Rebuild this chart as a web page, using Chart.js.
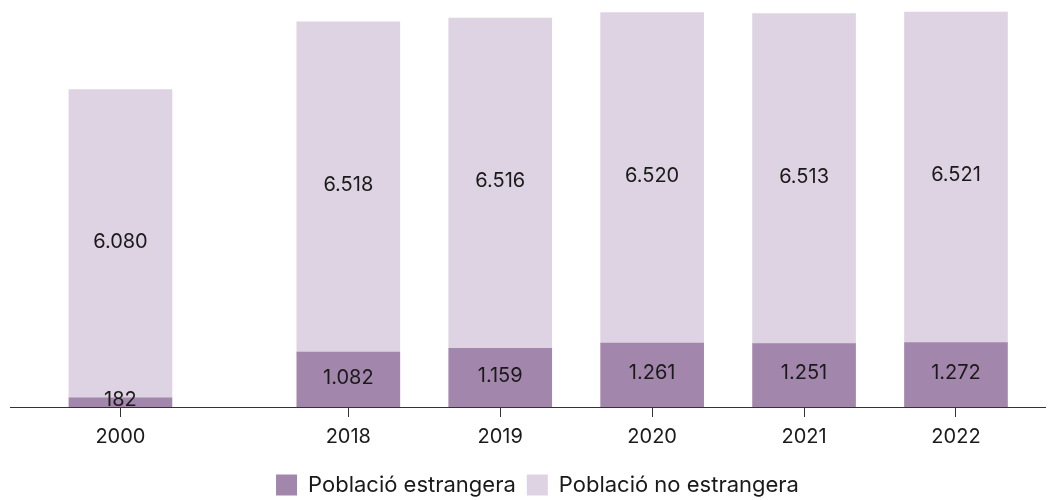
<!DOCTYPE html>
<html>
<head>
<meta charset="utf-8">
<script src="https://cdn.jsdelivr.net/npm/chart.js@4/dist/chart.umd.min.js"></script>
<style>
  html, body { margin: 0; padding: 0; background: #fff; }
  #wrap { width: 1055px; height: 500px; position: relative; }
</style>
</head>
<body>
<div id="wrap"><canvas id="chart"></canvas></div>
<script>
const years = ['2000', '2018', '2019', '2020', '2021', '2022'];
const estrangera = [182, 1082, 1159, 1261, 1251, 1272];
const noEstrangera = [6080, 6518, 6516, 6520, 6513, 6521];
const seriesNames = ['Població estrangera', 'Població no estrangera'];

// the first year stands apart from the rest, half a slot further
const slotOf = i => (i === 0 ? 0 : i + 0.5);
const slots = years.map((y, i) => slotOf(i));

const fontFamily = 'Inter, "Noto Sans", sans-serif';

function fmt(n) {
  return String(n).replace(/\B(?=(\d{3})+(?!\d))/g, '.');
}

// value in the middle of each segment, nudged a little up
const segmentLabels = {
  id: 'segmentLabels',
  afterLayout(chart) {
    // legend sits a bit right of centre in the original
    chart.legend.left = 30;
  },
  afterDatasetsDraw(chart) {
    const ctx = chart.ctx;
    ctx.save();
    ctx.font = '20px ' + fontFamily;
    ctx.fillStyle = '#1a1a1a';
    ctx.textAlign = 'center';
    ctx.textBaseline = 'middle';
    chart.data.datasets.forEach((ds, di) => {
      const meta = chart.getDatasetMeta(di);
      meta.data.forEach((bar, i) => {
        const y = (bar.y + bar.base) / 2 - 2;
        ctx.fillText(fmt(ds.data[i].y), bar.x, y);
      });
    });
    ctx.restore();
  }
};

const ctx = document.getElementById('chart').getContext('2d');
new Chart(ctx, {
  type: 'bar',
  data: {
    datasets: [
      {
        label: seriesNames[0],
        data: estrangera.map((v, i) => ({ x: slots[i], y: v })),
        backgroundColor: '#a386ac',
        barThickness: 103,
      },
      {
        label: seriesNames[1],
        data: noEstrangera.map((v, i) => ({ x: slots[i], y: v })),
        backgroundColor: '#ded3e2',
        barThickness: 103,
      },
    ],
  },
  options: {
    responsive: true,
    maintainAspectRatio: false,
    animation: false,
    events: [],
    layout: {
      padding: { left: 10, right: 10, top: 0, bottom: -6 },
    },
    plugins: {
      tooltip: { enabled: false },
      legend: {
        display: true,
        position: 'bottom',
        labels: {
          color: '#1a1a1a',
          boxWidth: 21,
          boxHeight: 21,
          padding: 11,
          font: { family: fontFamily, size: 22 },
        },
      },
    },
    scales: {
      x: {
        type: 'linear',
        stacked: true,
        offset: false,
        min: -0.727,
        max: 6.086,
        afterBuildTicks: scale => {
          scale.ticks = slots.map(v => ({ value: v }));
        },
        afterFit: scale => {
          scale.height += 6;
        },
        grid: {
          display: true,
          offset: false,
          drawOnChartArea: false,
          drawTicks: true,
          tickLength: 10,
          color: '#333',
        },
        border: { display: true, color: '#333', width: 1 },
        ticks: {
          autoSkip: false,
          maxRotation: 0,
          padding: 8,
          color: '#1a1a1a',
          font: { family: fontFamily, size: 20 },
          callback: (value, index) => years[index],
        },
      },
      y: {
        stacked: true,
        display: false,
        min: 0,
        max: 8030,
      },
    },
  },
  plugins: [segmentLabels],
});
</script>
</body>
</html>
